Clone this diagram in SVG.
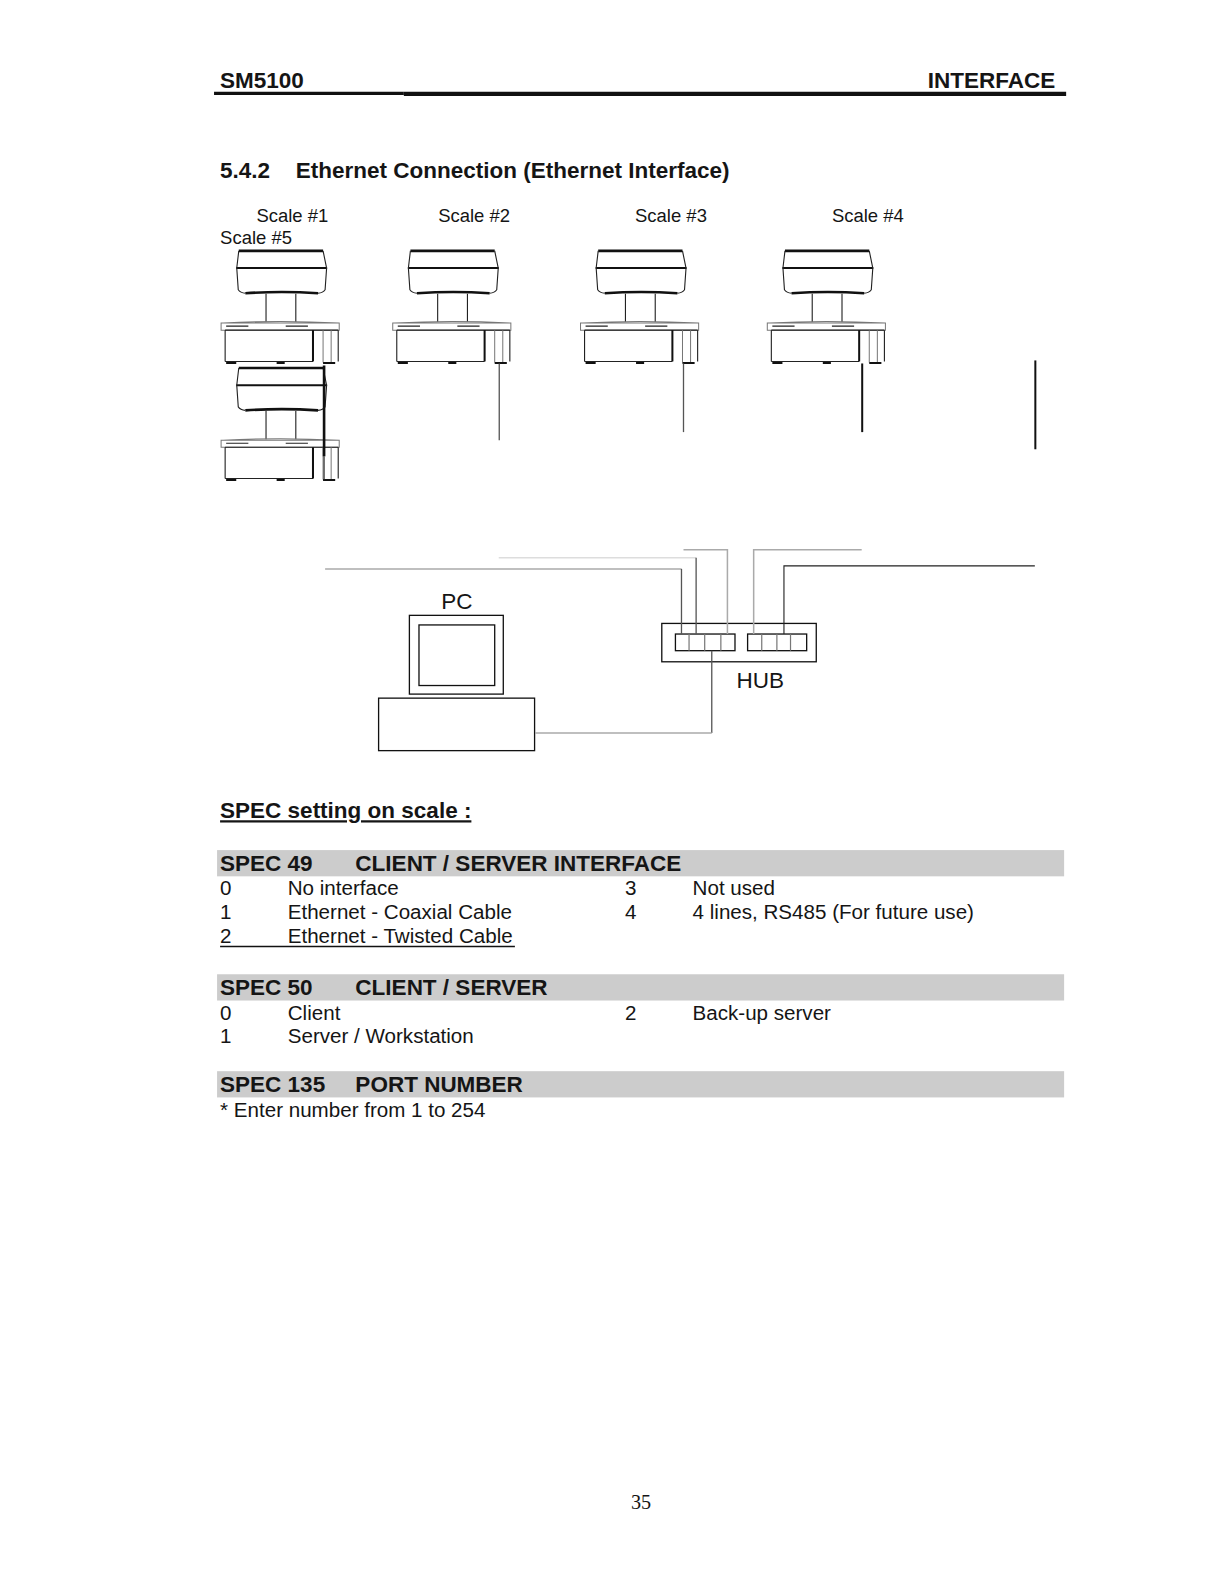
<svg xmlns="http://www.w3.org/2000/svg" width="1219" height="1582" viewBox="0 0 1219 1582">
<style>
text{font-family:"Liberation Sans",Arial,sans-serif;fill:#151515}
.h{font-weight:bold;font-size:22.3px}
.b{font-size:20.4px}
.s{font-size:18.3px}
.l{font-size:22.3px}
.bar{fill:#cccccc}
.k{fill:none;stroke:#222;stroke-width:1.1}
.f{fill:none;stroke:#777;stroke-width:1}
.k2{fill:none;stroke:#111;stroke-width:2}
.k3{fill:none;stroke:#111;stroke-width:2.6}
.g1{fill:none;stroke:#aaa;stroke-width:1.5}
.g2{fill:none;stroke:#555;stroke-width:1.3}
.g3{fill:none;stroke:#ddd;stroke-width:1.5}
.w{fill:#fff;stroke:#111;stroke-width:1.3}
.d{fill:none;stroke:#777;stroke-width:1.2}
</style>
<defs>
<g id="scale">
<path class="k3" d="M17.500 2.500H101"/>
<path class="k2" d="M15 19.500H105" stroke-width="3"/>
<path class="k3" d="M24 44.500Q60 42 96 44.500"/>
<path class="k" d="M17.500 2.500L15.500 19.500L17 41Q19 44 24 44.500M101 2.500L104.500 19.500L103 41Q101 44 96 44.500"/>
<path class="k" d="M44.500 45V73M74 45V73"/>
<path class="f" d="M0 74H117V81H0ZM2 74Q58 71 117 74"/>
<path class="k" d="M4 81V112M116 81V112M4 81H116M4 112H91"/>
<path class="k" d="M5 77H27M64 77H86"/>
<path class="k2" d="M91 81V112"/>
<path class="f" d="M101 81V113M109 81V113"/>
<path class="k2" d="M5 113.500H15M55 113.500H63M101 113.500H113"/>
</g>
</defs>
<g transform="scale(1.0096)">
<g id="page-header">
<text class="h" x="218" y="87">SM5100</text>
<text class="h" x="919" y="87">INTERFACE</text>
<path d="M212 92.500H400" stroke="#111" stroke-width="3" fill="none"/>
<path d="M400 93H1056" stroke="#111" stroke-width="4" fill="none"/>
<text class="h" x="218" y="176">5.4.2</text>
<text class="h" x="293" y="176">Ethernet Connection (Ethernet Interface)</text>
</g>
<g id="scale-labels">
<text class="s" x="254" y="220">Scale #1</text>
<text class="s" x="434" y="220">Scale #2</text>
<text class="s" x="629" y="220">Scale #3</text>
<text class="s" x="824" y="220">Scale #4</text>
<text class="s" x="218" y="242">Scale #5</text>
</g>
<g id="scale1"><use href="#scale" x="219" y="246"/></g>
<g id="scale2"><use href="#scale" x="389" y="246"/></g>
<g id="scale3"><use href="#scale" x="575" y="246"/></g>
<g id="scale4"><use href="#scale" x="760" y="246"/></g>
<g id="scale5"><use href="#scale" x="219" y="362"/></g>
<g id="pc">
<text class="l" x="437" y="603">PC</text>
<rect class="w" x="405.500" y="609.500" width="93" height="78"/>
<rect class="w" x="415" y="619" width="75" height="60"/>
<rect class="w" x="375" y="691.500" width="154.500" height="52"/>
</g>
<g id="hub">
<rect class="w" x="655.500" y="617.500" width="153" height="38"/>
<rect class="w" x="669" y="628" width="59" height="16.500"/>
<rect class="w" x="740.500" y="628" width="58.500" height="16.500"/>
<path class="d" d="M682.500 628V644.500M698 628V644.500M714 628V644.500M754.500 628V644.500M769.500 628V644.500M783 628V644.500"/>
<text class="l" x="729.500" y="681">HUB</text>
</g>
<g id="connectors">
<path class="k3" d="M321 362V452"/>
<path class="k" d="M321 452V476"/>
<path class="g2" d="M494.500 360V436"/>
<path class="g2" d="M677 360V428"/>
<path class="k2" d="M854 360V428"/>
<path class="k2" d="M1025.500 357V445"/>
<path class="g1" d="M322 563.500H675"/>
<path class="g2" d="M675 563.500V628"/>
<path class="g3" d="M494 552.500H689.500"/>
<path class="g2" d="M689.500 552.500V628"/>
<path class="g1" d="M677 544.500H720.500V628"/>
<path class="g1" d="M853.500 544.500H746.500V628"/>
<path class="k" d="M1025 560.500H776.500V628" stroke-width="1.5"/>
<path class="g2" d="M705 644.500V726"/>
<path class="g1" d="M705 726H530"/>
</g>
<g id="spec-text">
<text class="h" x="218" y="810.500" text-decoration="underline">SPEC setting on scale :</text>
<rect class="bar" x="215" y="842" width="839" height="26"/>
<text class="h" x="218" y="863">SPEC 49</text>
<text class="h" x="352" y="863">CLIENT / SERVER INTERFACE</text>
<text class="b" x="218" y="887">0</text><text class="b" x="285" y="887">No interface</text>
<text class="b" x="619" y="887">3</text><text class="b" x="686" y="887">Not used</text>
<text class="b" x="218" y="910.500">1</text><text class="b" x="285" y="910.500">Ethernet - Coaxial Cable</text>
<text class="b" x="619" y="910.500">4</text><text class="b" x="686" y="910.500">4 lines, RS485 (For future use)</text>
<text class="b" x="218" y="934">2</text><text class="b" x="285" y="934">Ethernet - Twisted Cable</text>
<path d="M218 937.500H510" stroke="#111" stroke-width="1.3"/>
<rect class="bar" x="215" y="965" width="839" height="26"/>
<text class="h" x="218" y="985.500">SPEC 50</text>
<text class="h" x="352" y="985.500">CLIENT / SERVER</text>
<text class="b" x="218" y="1010">0</text><text class="b" x="285" y="1010">Client</text>
<text class="b" x="619" y="1010">2</text><text class="b" x="686" y="1010">Back-up server</text>
<text class="b" x="218" y="1033">1</text><text class="b" x="285" y="1033">Server / Workstation</text>
<rect class="bar" x="215" y="1061" width="839" height="26"/>
<text class="h" x="218" y="1081.500">SPEC 135</text>
<text class="h" x="352" y="1081.500">PORT NUMBER</text>
<text class="b" x="218" y="1106">* Enter number from 1 to 254</text>
<text x="625" y="1495" style="font-family:'Liberation Serif',serif;font-size:20px">35</text>
</g>
</g>
</svg>
